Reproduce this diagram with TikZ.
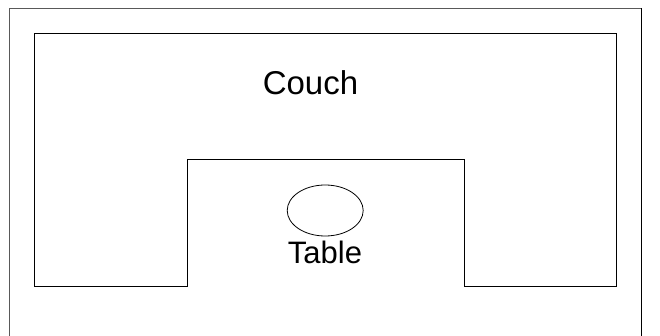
\documentclass[tikz,border=0pt]{standalone}
\usepackage{fontspec}
\usetikzlibrary{shapes.geometric}
\setmainfont{Liberation Sans}
\tikzset{outline/.style={draw=black,line width=0.8pt},lbl/.style={inner sep=0pt,text=black,anchor=base}}
\begin{document}
\begin{tikzpicture}[x=1pt,y=-1pt]
\useasboundingbox (0,0) rectangle (660,336);
\coordinate (fa) at (9.5,336);
\coordinate (fb) at (9.5,8.5);
\coordinate (fc) at (641.5,8.5);
\coordinate (fd) at (641.5,336);
\draw[draw=black!65,line width=0.8pt] (fa) -- (fb) -- (fc);
\draw[draw=black,line width=0.8pt] (fc) -- (fd);
\draw[outline] (34.5,33.5) -- (616.5,33.5) -- (616.5,286.5) -- (464.5,286.5) -- (464.5,159.5) -- (187.5,159.5) -- (187.5,286.5) -- (34.5,286.5) -- cycle;
\node[outline,shape=ellipse,minimum width=76pt,minimum height=51pt,inner sep=0pt] (t) at (325.2,210.5) {};
\node[lbl,font=\fontsize{33pt}{35pt}\selectfont] (couch) at (310.5,94.5) {Couch};
\node[lbl,font=\fontsize{31pt}{33pt}\selectfont] (table) at (325,263.5) {Table};
\end{tikzpicture}
\end{document}
